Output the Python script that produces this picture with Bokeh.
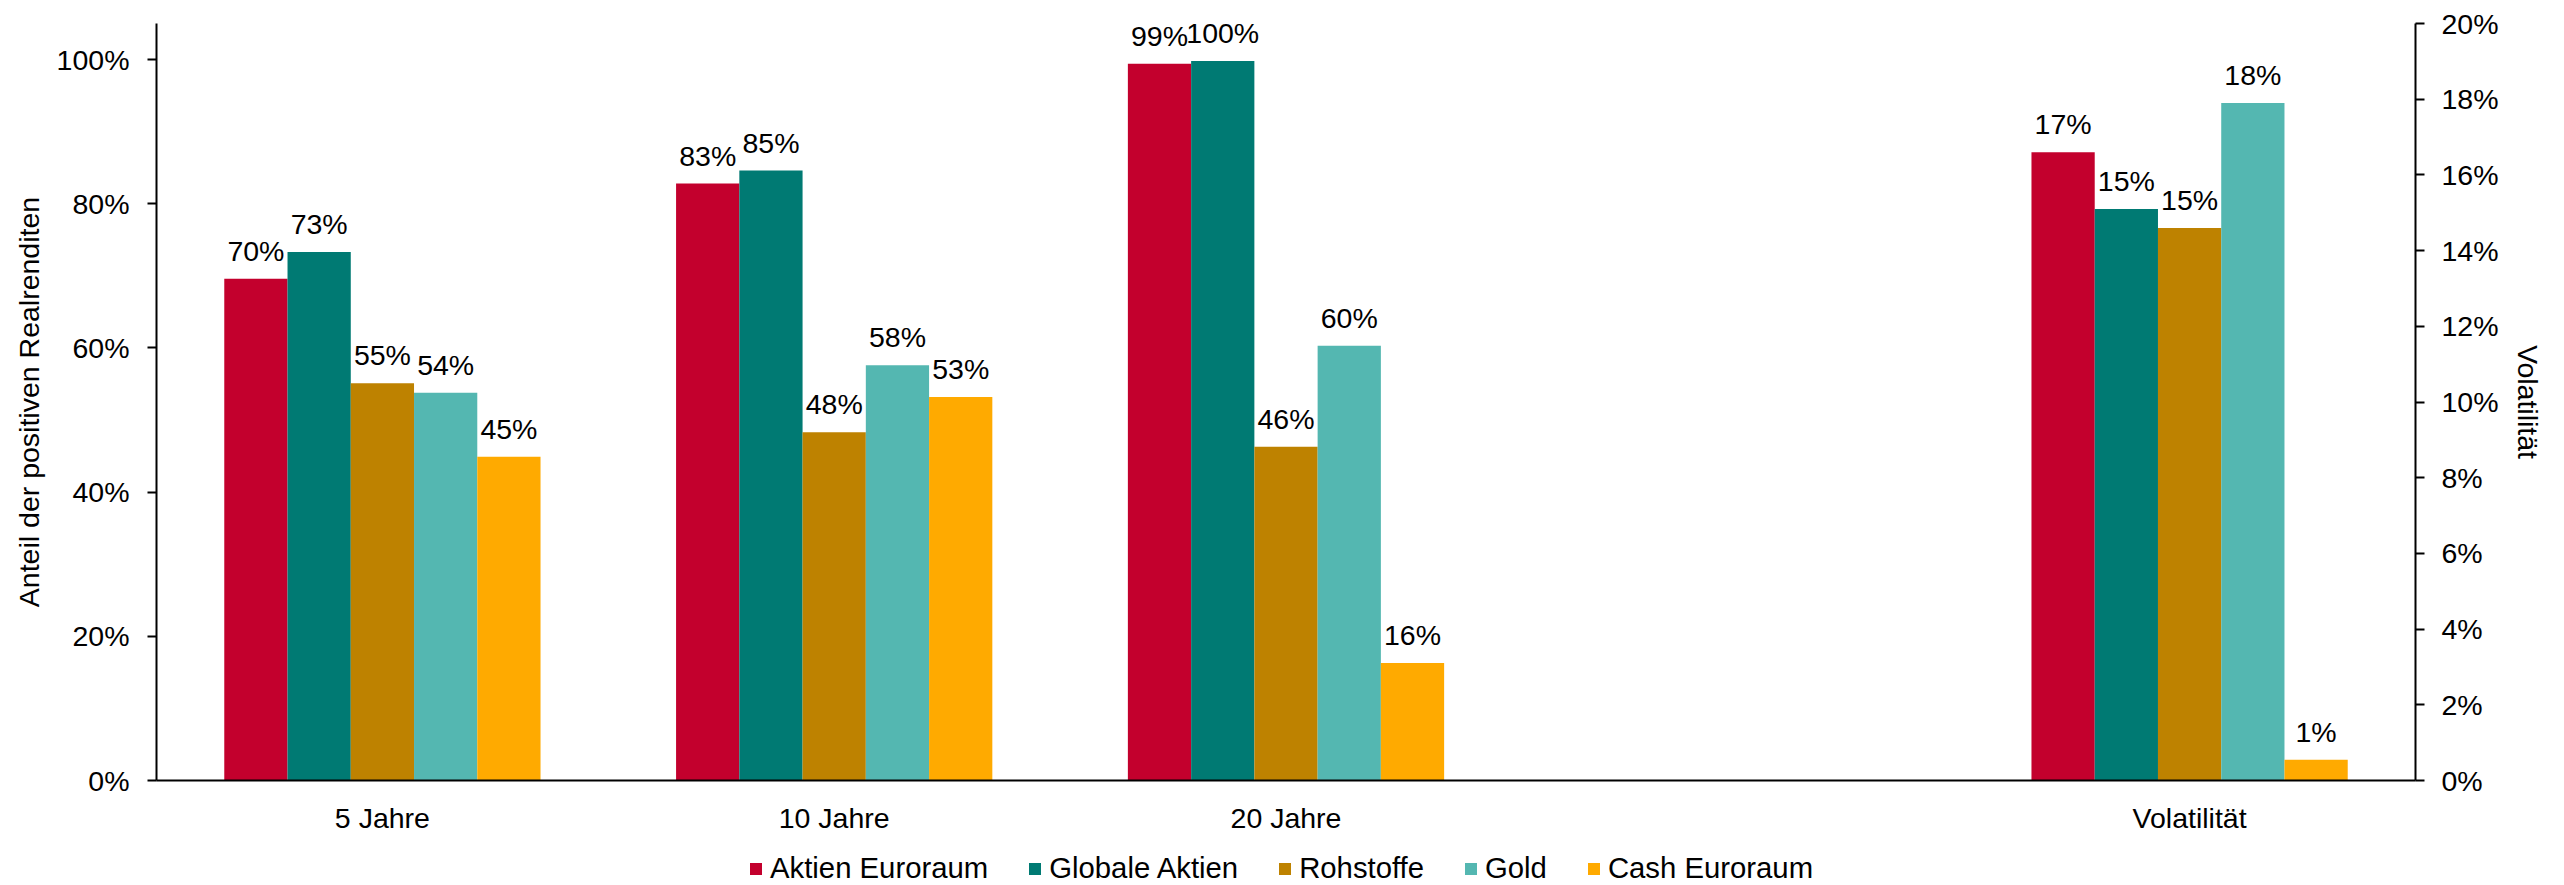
from bokeh.plotting import figure
from bokeh.models import (Range1d, LinearAxis, FixedTicker, NumeralTickFormatter,
                          ColumnDataSource, Legend, LegendItem, FactorRange)
from bokeh.layouts import column
from bokeh.transform import dodge
from bokeh.core.properties import value
from bokeh.embed import file_html
from bokeh.resources import INLINE

# ---------------- data ----------------
slots = ["5 Jahre", "10 Jahre", "20 Jahre", " ", "Volatilität"]
share_categories = ["5 Jahre", "10 Jahre", "20 Jahre"]
vol_category = ["Volatilität"]

series = ["Aktien Euroraum", "Globale Aktien", "Rohstoffe", "Gold", "Cash Euroraum"]
colors = ["#C3002D", "#007A73", "#BE8200", "#54B7B1", "#FFAA00"]

# share of positive real returns (5 / 10 / 20 years)
aktien_euroraum = [0.696, 0.828, 0.994]
globale_aktien = [0.733, 0.846, 0.998]
rohstoffe = [0.551, 0.483, 0.463]
gold = [0.538, 0.576, 0.603]
cash_euroraum = [0.449, 0.532, 0.163]

# volatility (right axis)
volatility = [0.166, 0.151, 0.146, 0.179, 0.0055]

left_ticks = [0.0, 0.2, 0.4, 0.6, 0.8, 1.0]
right_ticks = [0.0, 0.02, 0.04, 0.06, 0.08, 0.10, 0.12, 0.14, 0.16, 0.18, 0.20]

share_values = [aktien_euroraum, globale_aktien, rohstoffe, gold, cash_euroraum]

# ---------------- style ----------------
FONT = "Liberation Sans"
FS = "28.5px"
BAR_W = 0.14
offsets = [-0.28, -0.14, 0.0, 0.14, 0.28]
LABEL_OFF = -28

x_range = FactorRange(*slots, range_padding=0, factor_padding=0)

p = figure(width=2564, height=838, output_backend="svg", toolbar_location=None,
           x_range=x_range, y_range=Range1d(0, 1.05),
           min_border_left=156, min_border_right=149,
           min_border_top=23, min_border_bottom=58)
p.extra_y_ranges = {"vol": Range1d(0, 0.20)}
p.outline_line_color = None
p.xgrid.grid_line_color = None
p.ygrid.grid_line_color = None
p.background_fill_color = "white"
p.border_fill_color = "white"

def pct(v):
    return f"{round(v * 100):.0f}%"

sources = []
for j, name in enumerate(series):
    src = ColumnDataSource(dict(cat=share_categories, val=share_values[j],
                                lab=[pct(v) for v in share_values[j]]))
    sources.append(src)
    p.vbar(x=dodge("cat", offsets[j], range=x_range), top="val", width=BAR_W,
           source=src, fill_color=colors[j], line_color=None)
    p.text(x=dodge("cat", offsets[j], range=x_range), y="val", text="lab", source=src,
           text_font=value(FONT), text_font_size=FS, text_color="#000000",
           text_align="center", text_baseline="alphabetic", y_offset=LABEL_OFF)
    vsrc = ColumnDataSource(dict(cat=vol_category, val=[volatility[j]],
                                 lab=[pct(volatility[j])]))
    p.vbar(x=dodge("cat", offsets[j], range=x_range), top="val", width=BAR_W,
           source=vsrc, fill_color=colors[j], line_color=None, y_range_name="vol")
    p.text(x=dodge("cat", offsets[j], range=x_range), y="val", text="lab", source=vsrc,
           text_font=value(FONT), text_font_size=FS, text_color="#000000",
           text_align="center", text_baseline="alphabetic", y_offset=LABEL_OFF,
           y_range_name="vol")

# left axis
ya = p.yaxis[0]
ya.ticker = FixedTicker(ticks=left_ticks)
ya.formatter = NumeralTickFormatter(format="0%")
ya.axis_label = "Anteil der positiven Realrenditen"

# right axis
ra = LinearAxis(y_range_name="vol", ticker=FixedTicker(ticks=right_ticks),
                formatter=NumeralTickFormatter(format="0%"), axis_label="Volatilität")
p.add_layout(ra, "right")

for ax in (ya, ra):
    ax.axis_line_color = "#000000"
    ax.axis_line_width = 2
    ax.major_tick_line_color = "#000000"
    ax.major_tick_line_width = 2
    ax.major_tick_out = 9
    ax.major_tick_in = 0
    ax.minor_tick_line_color = None
    ax.major_label_text_font = FONT
    ax.major_label_text_font_size = FS
    ax.major_label_text_color = "#000000"
    ax.major_label_standoff = 18
    ax.axis_label_text_font = FONT
    ax.axis_label_text_font_size = FS
    ax.axis_label_text_font_style = "normal"
    ax.axis_label_text_color = "#000000"
ya.axis_label_standoff = 9
ra.axis_label_standoff = 10
ra.major_label_standoff = 17

xa = p.xaxis[0]
xa.axis_line_color = "#000000"
xa.axis_line_width = 2
xa.major_tick_line_color = None
xa.major_tick_out = 0
xa.major_tick_in = 0
xa.minor_tick_line_color = None
xa.major_label_text_font = FONT
xa.major_label_text_font_size = FS
xa.major_label_text_color = "#000000"
xa.major_label_standoff = 21

# ---------------- legend strip below the chart ----------------
# same bars re-used with a y-range far above the data, so only the legend shows
lg = figure(width=2564, height=47, output_backend="svg", toolbar_location=None,
            x_range=x_range, y_range=Range1d(5, 6),
            x_axis_location=None, y_axis_location=None,
            min_border_left=156, min_border_right=149, min_border_top=0, min_border_bottom=0)
lg.outline_line_color = None
lg.xgrid.grid_line_color = None
lg.ygrid.grid_line_color = None
lg.background_fill_color = "white"
lg.border_fill_color = "white"

legend_items = []
for j, name in enumerate(series):
    rr = lg.vbar(x=dodge("cat", offsets[j], range=x_range), top="val", width=BAR_W,
                 source=sources[j], fill_color=colors[j], line_color=None)
    legend_items.append(LegendItem(label=name, renderers=[rr]))

legend = Legend(items=legend_items, orientation="horizontal",
                location=(592, 0), padding=0, margin=0, spacing=39,
                glyph_width=15, glyph_height=15, label_standoff=7,
                label_text_font=FONT, label_text_font_size="29.3px",
                label_text_color="#000000",
                border_line_color=None, background_fill_alpha=0)
lg.add_layout(legend, "center")

layout = column(p, lg, spacing=0)
open("out.html", "w").write(file_html(layout, INLINE))
